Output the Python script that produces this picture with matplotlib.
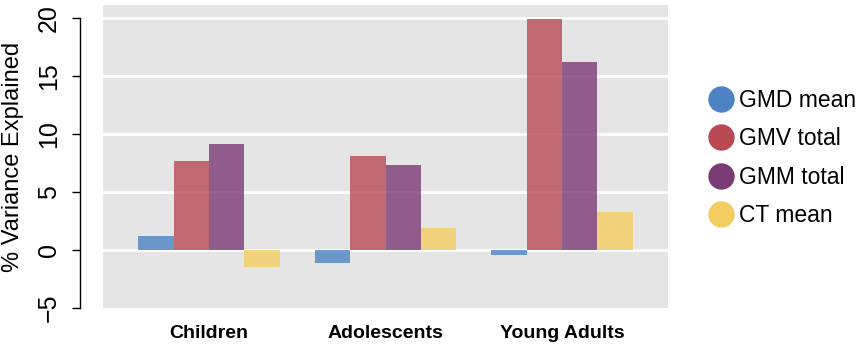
import matplotlib.pyplot as plt
from matplotlib.lines import Line2D
import numpy as np

# Data (% variance explained per age group)
groups = ['Children', 'Adolescents', 'Young Adults']
measures = ['GMD mean', 'GMV total', 'GMM total', 'CT mean']
gmd_mean = [1.2, -1.1, -0.45]
gmv_total = [7.7, 8.1, 19.9]
gmm_total = [9.1, 7.3, 16.2]
ct_mean = [-1.5, 1.9, 3.3]
colors = ['#4d82c4', '#b94a53', '#7a3a76', '#f3cc62']

plt.rcParams['font.family'] = ['Liberation Sans', 'DejaVu Sans']

fig = plt.figure(figsize=(8.64, 3.48), dpi=100)
ax = fig.add_axes([103 / 864, 1 - 308 / 348, 565 / 864, 303 / 348])
ax.set_facecolor('#e5e5e5')

x = np.arange(len(groups)) * 5
series = [gmd_mean, gmv_total, gmm_total, ct_mean]
for i, vals in enumerate(series):
    ax.bar(x + (i - 1.5), vals, width=1.0, color=colors[i], alpha=0.8,
           linewidth=0, zorder=3)

ax.set_xlim(-3, 13)
ax.set_ylim(-5, 21.1)

# white horizontal grid
ax.set_yticks([-5, 0, 5, 10, 15, 20])
for yv in [0, 5, 10, 15, 20]:
    ax.axhline(yv, color='white', lw=2, zorder=2)

for s in ['top', 'right', 'bottom']:
    ax.spines[s].set_visible(False)
ax.spines['left'].set_position(('outward', 16.5))
ax.spines['left'].set_bounds(-5, 20)
ax.spines['left'].set_linewidth(1.0)
ax.tick_params(axis='y', length=6, width=1.0, labelsize=18, pad=8)
for lab in ax.get_yticklabels():
    lab.set_rotation(90)
    lab.set_va('center')
ax.set_ylabel('% Variance Explained', fontsize=17, labelpad=9)

ax.set_xticks(x)
ax.set_xticklabels(groups, fontsize=14, fontweight='bold')
ax.tick_params(axis='x', length=0, pad=12)

handles = [Line2D([], [], marker='o', ls='', markersize=19,
                  markerfacecolor=c, markeredgewidth=0) for c in colors]
fig.legend(handles, measures, loc='center left', bbox_to_anchor=(700 / 864, 1 - 158 / 348),
           frameon=False, fontsize=16.5, handletextpad=0.3, labelspacing=0.68,
           handlelength=1.0, borderaxespad=0)

fig.savefig('out.png', dpi=100)
